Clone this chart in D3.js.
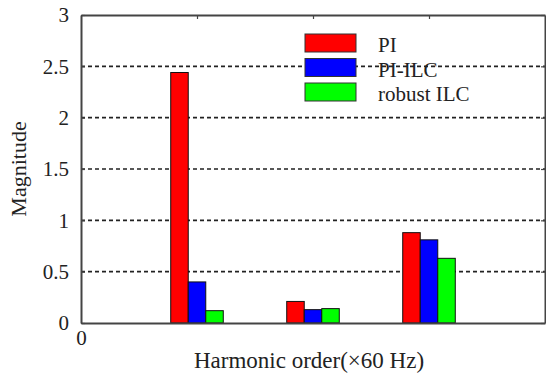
<!DOCTYPE html>
<html>
<head>
<meta charset="utf-8">
<script src="https://cdn.jsdelivr.net/npm/d3@7"></script>
<style>
  body { margin: 0; background: #fff; }
  text { font-family: "Liberation Serif", "Times New Roman", serif; fill: #222; }
</style>
</head>
<body>
<div id="chart"></div>
<script>
var width = 546, height = 378;
var margin = {left: 81, right: 1, top: 15, bottom: 55};

// data
var harmonics = [1, 2, 3];
var seriesNames = ["PI", "PI-ILC", "robust ILC"];
var seriesColors = ["#ff0000", "#0000ff", "#00ff00"];
var piValues = [2.44, 0.21, 0.88];
var piIlcValues = [0.40, 0.13, 0.81];
var robustValues = [0.12, 0.14, 0.63];
var yTicks = [0, 0.5, 1, 1.5, 2, 2.5, 3];
var yTickLabels = ["0", "0.5", "1", "1.5", "2", "2.5", "3"];
var xTicks = [0];

var seriesValues = [piValues, piIlcValues, robustValues];

var svg = d3.select("#chart").append("svg")
	.attr("width", width)
	.attr("height", height);

var x = d3.scaleLinear().domain([0, 4]).range([margin.left, width - margin.right]);
var y = d3.scaleLinear().domain([0, 3]).range([height - margin.bottom, margin.top]);

var barW = 0.151; // in x units
var offsets = [-1, 0, 1];

// dashed grid
svg.append("g").selectAll("line")
	.data(yTicks.filter(function(d){ return d > 0 && d < 3; }))
	.enter().append("line")
	.attr("x1", x(0)).attr("x2", x(4))
	.attr("y1", function(d){ return y(d); })
	.attr("y2", function(d){ return y(d); })
	.attr("stroke", "#222")
	.attr("stroke-width", 1.6)
	.attr("stroke-dasharray", "4,3");

// bars
seriesValues.forEach(function(vals, si){
	svg.append("g").selectAll("rect")
		.data(vals)
		.enter().append("rect")
		.attr("x", function(d, i){ return x(harmonics[i] + offsets[si] * barW - barW / 2); })
		.attr("width", x(barW) - x(0))
		.attr("y", function(d){ return y(d); })
		.attr("height", function(d){ return y(0) - y(d); })
		.attr("fill", seriesColors[si])
		.attr("stroke", "#111")
		.attr("stroke-width", 1);
});

// axes
var yAxis = d3.axisLeft(y).tickValues(yTicks)
	.tickFormat(function(d, i){ return yTickLabels[i]; })
	.tickSizeInner(-4).tickSizeOuter(0).tickPadding(12);
var gy = svg.append("g").attr("transform", "translate(" + x(0) + ",0)").call(yAxis);
gy.selectAll("text").style("font-size", "21px").attr("fill", "#222");

var gyR = svg.append("g").attr("transform", "translate(" + x(4) + ",0)")
	.call(d3.axisRight(y).tickValues(yTicks).tickSizeInner(-4).tickSizeOuter(0).tickFormat(""));

var xAxis = d3.axisBottom(x).tickValues(xTicks).tickFormat(d3.format("d"))
	.tickSizeInner(0).tickSizeOuter(0).tickPadding(7);
var gx = svg.append("g").attr("transform", "translate(0," + y(0) + ")").call(xAxis);
gx.selectAll("text").style("font-size", "21px").attr("fill", "#222");

var gxT = svg.append("g").attr("transform", "translate(0," + y(3) + ")")
	.call(d3.axisTop(x).tickValues(harmonics).tickSizeInner(-4).tickSizeOuter(0).tickFormat(""));

[gy, gyR, gx, gxT].forEach(function(g){
	g.select(".domain").attr("stroke", "#444").attr("stroke-width", 2);
	g.selectAll(".tick line").attr("stroke", "#444").attr("stroke-width", 1.2);
});

// axis labels
svg.append("text")
	.attr("x", 309).attr("y", 368)
	.attr("text-anchor", "middle")
	.style("font-size", "23px")
	.text("Harmonic order(×60 Hz)");

svg.append("text")
	.attr("transform", "translate(26," + ((y(0) + y(3)) / 2) + ") rotate(-90)")
	.attr("text-anchor", "middle")
	.style("font-size", "22px")
	.text("Magnitude");

// legend
var legend = svg.append("g").attr("transform", "translate(305,34)");
seriesNames.forEach(function(name, i){
	var row = legend.append("g").attr("transform", "translate(0," + (i * 24.5) + ")");
	row.append("rect")
		.attr("width", 51).attr("height", 18)
		.attr("fill", seriesColors[i])
		.attr("stroke", "#333").attr("stroke-width", 1);
	row.append("text")
		.attr("x", 73).attr("y", 18)
		.style("font-size", "21px")
		.text(name);
});
</script>
</body>
</html>
